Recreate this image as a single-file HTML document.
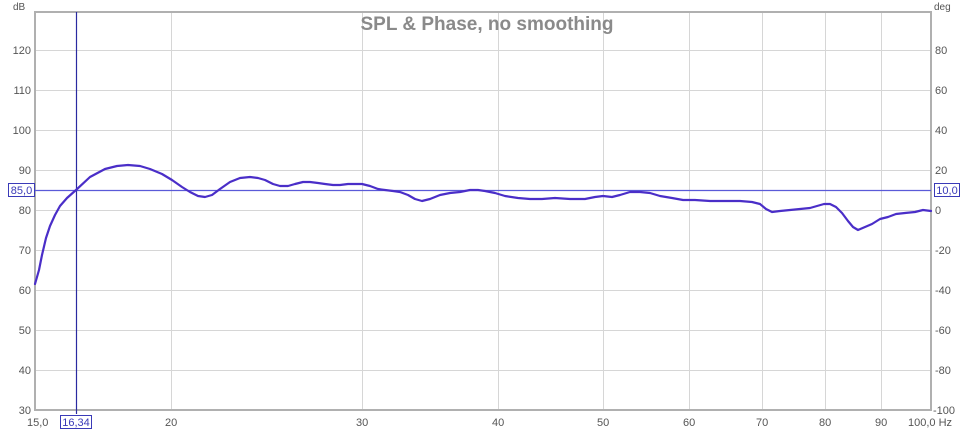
<!DOCTYPE html>
<html><head><meta charset="utf-8"><style>
html,body{margin:0;padding:0;background:#fff;}
svg{display:block;font-family:"Liberation Sans",sans-serif;}
</style></head><body>
<svg width="975" height="429" viewBox="0 0 975 429" xmlns="http://www.w3.org/2000/svg">
<rect width="975" height="429" fill="#fff"/>
<g stroke="#d6d6d6" stroke-width="1">
<line x1="35" x2="931" y1="50.5" y2="50.5"/>
<line x1="35" x2="931" y1="90.5" y2="90.5"/>
<line x1="35" x2="931" y1="130.5" y2="130.5"/>
<line x1="35" x2="931" y1="170.5" y2="170.5"/>
<line x1="35" x2="931" y1="210.5" y2="210.5"/>
<line x1="35" x2="931" y1="250.5" y2="250.5"/>
<line x1="35" x2="931" y1="290.5" y2="290.5"/>
<line x1="35" x2="931" y1="330.5" y2="330.5"/>
<line x1="35" x2="931" y1="370.5" y2="370.5"/>
<line y1="13" y2="410" x1="171.5" x2="171.5"/>
<line y1="13" y2="410" x1="362.5" x2="362.5"/>
<line y1="13" y2="410" x1="498.5" x2="498.5"/>
<line y1="13" y2="410" x1="603.5" x2="603.5"/>
<line y1="13" y2="410" x1="689.5" x2="689.5"/>
<line y1="13" y2="410" x1="762.5" x2="762.5"/>
<line y1="13" y2="410" x1="825.5" x2="825.5"/>
<line y1="13" y2="410" x1="881.5" x2="881.5"/>
</g>
<rect x="35" y="12" width="896" height="398" fill="none" stroke="#b0b0b0" stroke-width="2"/>
<text x="487" y="30" font-size="19" font-weight="bold" fill="#8a8a8a" text-anchor="middle">SPL &amp; Phase, no smoothing</text>
<line x1="35" x2="931" y1="190.5" y2="190.5" stroke="#5a5ad8" stroke-width="1.2"/>
<line x1="76.5" x2="76.5" y1="12" y2="414" stroke="#2a2aa0" stroke-width="1.2"/>
<polyline fill="none" stroke="#4a2ec8" stroke-width="2.2" stroke-linejoin="round" stroke-linecap="round" points="35,284 39,270 42,255 46,238 50,226 55,215 60,206 67,198 76,190 90,177 105,169 117,166 128,165 140,166 150,169 162,174 172,180 182,187 190,192 198,196 205,197 212,195 220,189 230,182 240,178 250,177 258,178 265,180 273,184 280,186 288,186 295,184 303,182 310,182 318,183 325,184 333,185 340,185 348,184 355,184 362,184 370,186 378,189 385,190 393,191 400,192 408,195 415,199 422,201 430,199 440,195 450,193 460,192 470,190 478,190 485,191 495,193 505,196 518,198 530,199 542,199 555,198 570,199 585,199 595,197 603,196 612,197 620,195 630,192 640,192 650,193 660,196 672,198 683,200 695,200 710,201 725,201 740,201 752,202 760,204 766,209 772,212 780,211 790,210 800,209 810,208 817,206 824,204 830,204 836,207 842,213 848,221 853,227 858,230 865,227 872,224 880,219 888,217 896,214 905,213 915,212 923,210 931,211"/>
<g font-size="11" fill="#555">
<text x="13" y="10" font-size="10">dB</text>
<text x="31" y="54" text-anchor="end">120</text>
<text x="31" y="94" text-anchor="end">110</text>
<text x="31" y="134" text-anchor="end">100</text>
<text x="31" y="174" text-anchor="end">90</text>
<text x="31" y="214" text-anchor="end">80</text>
<text x="31" y="254" text-anchor="end">70</text>
<text x="31" y="294" text-anchor="end">60</text>
<text x="31" y="334" text-anchor="end">50</text>
<text x="31" y="374" text-anchor="end">40</text>
<text x="31" y="414" text-anchor="end">30</text>
<text x="934" y="10" font-size="10">deg</text>
<text x="935" y="54">80</text>
<text x="935" y="94">60</text>
<text x="935" y="134">40</text>
<text x="935" y="174">20</text>
<text x="935" y="214">0</text>
<text x="935" y="254">-20</text>
<text x="935" y="294">-40</text>
<text x="935" y="334">-60</text>
<text x="935" y="374">-80</text>
<text x="933" y="414">-100</text>
<text x="27" y="426">15,0</text>
<text x="165" y="426">20</text>
<text x="356" y="426">30</text>
<text x="492" y="426">40</text>
<text x="597" y="426">50</text>
<text x="683" y="426">60</text>
<text x="756" y="426">70</text>
<text x="819" y="426">80</text>
<text x="875" y="426">90</text>
<text x="908" y="426">100,0 Hz</text>
</g>
<rect x="8.5" y="183.5" width="26" height="13" fill="#fff" stroke="#3a3ab8"/>
<text x="21.5" y="194" font-size="11" fill="#3a3ab8" text-anchor="middle">85,0</text>
<rect x="934.5" y="183.5" width="25" height="13" fill="#fff" stroke="#3a3ab8"/>
<text x="947" y="194" font-size="11" fill="#3a3ab8" text-anchor="middle">10,0</text>
<rect x="60.5" y="415.5" width="31" height="13" fill="#fff" stroke="#3a3ab8"/>
<text x="76" y="426" font-size="11" fill="#3a3ab8" text-anchor="middle">16,34</text>
</svg>
</body></html>
